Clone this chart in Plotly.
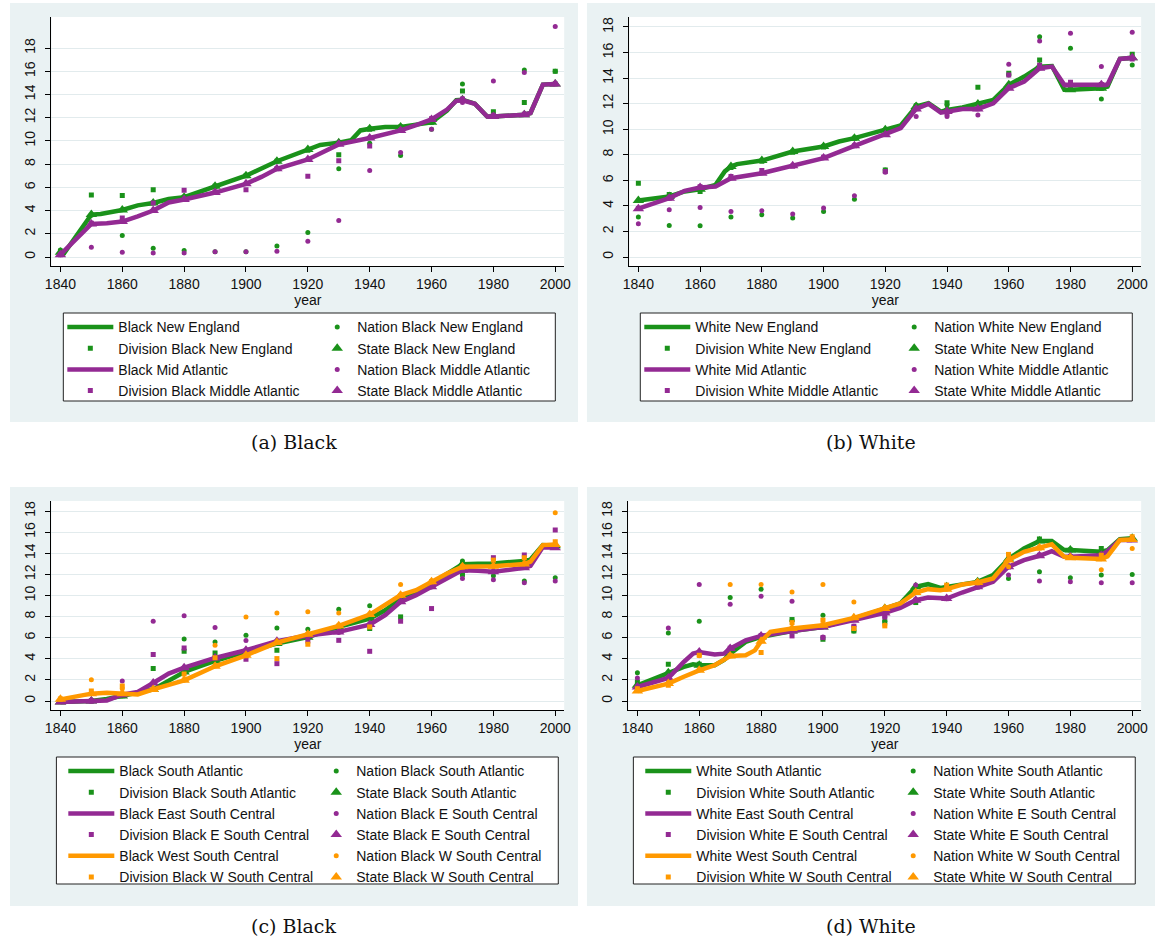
import plotly.graph_objects as go

W, H = 1163, 944

# decade observations
YEARS = list(range(1840, 2001, 10))
Y_TICKS = list(range(0, 19, 2))
X_TICKS = list(range(1840, 2001, 20))

# ---------------- Panel (a): Black, New England / Middle Atlantic ----------------
A_NE_LINE_YR = [1840, 1841, 1850, 1853, 1860, 1865, 1870, 1875, 1880, 1890, 1900, 1910, 1920, 1924, 1930, 1934,
                1937, 1940, 1945, 1950, 1955, 1960, 1965, 1968, 1970, 1974, 1978, 1980, 1990, 1992, 1996, 2000]
A_NE_LINE = [0.4, 0.25, 3.65, 3.7, 4.05, 4.45, 4.65, 5.0, 5.15, 6.1, 7.0, 8.25, 9.25, 9.65, 9.85, 10.05,
             10.9, 11.05, 11.2, 11.2, 11.4, 11.6, 12.6, 13.5, 13.55, 13.2, 12.1, 12.1, 12.25, 12.4, 14.85, 14.9]
A_NE_STATE = [0.4, 3.65, 4.05, 4.65, 5.15, 6.1, 7.0, 8.25, 9.25, 9.85, 11.05, 11.2, 11.6, 13.55, 12.1, 12.25, 14.9]
A_NE_DIV = [0.5, 5.35, 5.3, 5.8, 5.15, 6.1, 7.0, 8.25, 9.2, 8.8, 11.0, 11.2, 11.6, 14.3, 12.5, 13.3, 16.0]
A_NE_NAT = [0.6, 3.6, 1.85, 0.75, 0.55, 0.45, 0.45, 0.95, 2.1, 7.6, 9.8, 8.75, 11.0, 14.9, 12.3, 16.1, 16.0]

A_MA_LINE_YR = [1840, 1850, 1855, 1860, 1865, 1870, 1875, 1880, 1890, 1900, 1905, 1910, 1920, 1930, 1940, 1950,
                1955, 1960, 1965, 1968, 1970, 1974, 1978, 1980, 1990, 1992, 1996, 2000]
A_MA_LINE = [0.2, 2.85, 2.9, 3.05, 3.5, 4.0, 4.7, 4.95, 5.55, 6.3, 6.9, 7.6, 8.4, 9.7, 10.25, 10.9,
             11.35, 11.85, 12.7, 13.45, 13.5, 13.2, 12.1, 12.1, 12.25, 12.4, 14.85, 14.9]
A_MA_STATE = [0.2, 2.85, 3.05, 4.0, 4.95, 5.55, 6.3, 7.6, 8.4, 9.7, 10.25, 10.9, 11.85, 13.5, 12.1, 12.25, 14.9]
A_MA_DIV = [0.2, 2.9, 3.35, 4.65, 5.75, 5.6, 5.8, 7.6, 6.95, 8.3, 9.55, 10.9, 11.9, 13.6, 12.2, 12.3, 14.9]
A_MA_NAT = [0.2, 0.85, 0.4, 0.35, 0.35, 0.45, 0.45, 0.5, 1.35, 3.15, 7.45, 9.0, 11.0, 13.3, 15.15, 15.9, 19.85]

# ---------------- Panel (b): White, New England / Middle Atlantic ----------------
B_NE_LINE_YR = [1840, 1850, 1855, 1860, 1865, 1868, 1870, 1872, 1880, 1890, 1900, 1905, 1910, 1920, 1925, 1930,
                1934, 1938, 1940, 1945, 1950, 1955, 1960, 1965, 1970, 1974, 1978, 1980, 1990, 1992, 1996, 2000]
B_NE_LINE = [4.43, 4.74, 5.13, 5.31, 5.65, 6.7, 7.08, 7.27, 7.55, 8.26, 8.65, 9.04, 9.3, 9.95, 10.3, 11.77,
             12.03, 11.38, 11.51, 11.7, 11.98, 12.3, 13.47, 14.12, 14.9, 14.95, 13.08, 13.08, 13.2, 13.34, 15.5, 15.6]
B_NE_STATE = [4.43, 4.74, 5.31, 7.08, 7.55, 8.26, 8.65, 9.3, 9.95, 11.77, 11.51, 11.98, 13.47, 14.9, 13.08, 13.2, 15.6]
B_NE_DIV = [5.78, 4.9, 5.13, 7.0, 7.5, 8.2, 8.6, 9.3, 6.82, 11.8, 12.08, 13.28, 14.38, 15.42, 13.1, 13.2, 15.86]
B_NE_NAT = [3.13, 2.47, 2.45, 3.13, 3.31, 3.05, 3.57, 4.53, 6.82, 11.9, 11.9, 12.0, 14.25, 17.24, 16.33, 12.37, 15.03]

B_MA_LINE_YR = [1840, 1850, 1855, 1858, 1860, 1865, 1868, 1870, 1880, 1890, 1900, 1910, 1920, 1925, 1930, 1934,
                1938, 1940, 1945, 1950, 1955, 1960, 1965, 1970, 1974, 1978, 1980, 1990, 1992, 1996, 2000]
B_MA_LINE = [3.78, 4.61, 5.18, 5.39, 5.44, 5.52, 5.9, 6.17, 6.56, 7.14, 7.74, 8.7, 9.56, 10.08, 11.59, 11.98,
             11.3, 11.38, 11.59, 11.59, 12.03, 13.21, 13.73, 14.77, 14.9, 13.47, 13.47, 13.47, 13.5, 15.5, 15.6]
B_MA_STATE = [3.78, 4.61, 5.44, 6.17, 6.56, 7.14, 7.74, 8.7, 9.56, 11.59, 11.38, 11.59, 13.21, 14.77, 13.47, 13.47, 15.6]
B_MA_DIV = [3.8, 4.6, 5.5, 6.3, 6.77, 7.1, 7.8, 8.7, 6.7, 11.6, 11.25, 11.6, 14.25, 15.0, 13.68, 13.5, 15.5]
B_MA_NAT = [2.6, 3.7, 3.88, 3.57, 3.62, 3.36, 3.83, 4.79, 6.64, 10.99, 10.99, 11.12, 15.08, 16.9, 17.5, 14.9, 17.58]

# ---------------- Panel (c): Black, South ----------------
C_SA_LINE_YR = [1840, 1850, 1855, 1860, 1870, 1880, 1890, 1900, 1910, 1920, 1930, 1940, 1945, 1950, 1955, 1960,
                1965, 1970, 1975, 1980, 1990, 1992, 1996, 2000]
C_SA_LINE = [-0.1, 0.0, 0.2, 0.47, 1.1, 2.75, 3.8, 4.65, 5.44, 6.05, 7.02, 7.81, 8.6, 9.71, 10.19, 11.14,
             12.08, 12.97, 13.0, 13.04, 13.27, 13.4, 14.77, 14.71]
C_SA_STATE = [-0.1, 0.0, 0.47, 1.1, 2.75, 3.8, 4.65, 5.44, 6.05, 7.02, 7.81, 9.71, 11.14, 12.97, 13.04, 13.27, 14.71]
C_SA_DIV = [-0.05, 0.0, 0.5, 3.07, 4.71, 4.56, 4.65, 4.81, 6.0, 7.0, 6.87, 7.97, 11.1, 12.0, 13.0, 13.3, 14.7]
C_SA_NAT = [0.0, 0.0, 0.5, 1.2, 5.88, 5.6, 6.23, 6.93, 6.8, 8.7, 9.02, 9.8, 11.1, 13.26, 11.87, 11.36, 11.67]

C_ESC_LINE_YR = [1840, 1850, 1855, 1860, 1865, 1870, 1875, 1880, 1890, 1900, 1910, 1920, 1930, 1940, 1945, 1950,
                 1955, 1960, 1965, 1970, 1975, 1980, 1990, 1992, 1996, 2000]
C_ESC_LINE = [-0.1, 0.0, 0.06, 0.6, 0.85, 1.71, 2.6, 3.16, 4.08, 4.81, 5.66, 6.2, 6.55, 7.24, 8.13, 9.4,
              10.03, 10.82, 11.61, 12.4, 12.35, 12.24, 12.62, 12.8, 14.58, 14.52]
C_ESC_STATE = [-0.1, 0.0, 0.6, 1.71, 3.16, 4.08, 4.81, 5.66, 6.2, 6.55, 7.24, 9.4, 10.82, 12.4, 12.24, 12.62, 14.52]
C_ESC_DIV = [-0.05, 0.0, 0.6, 4.4, 5.03, 4.1, 3.95, 3.54, 5.69, 5.75, 4.71, 7.56, 8.76, 12.4, 13.58, 13.84, 16.2]
C_ESC_NAT = [0.0, 0.0, 1.9, 7.56, 8.07, 6.96, 5.73, 5.6, 6.1, 6.5, 7.2, 9.4, 10.8, 11.6, 11.5, 11.2, 11.36]

C_WSC_LINE_YR = [1840, 1850, 1855, 1860, 1865, 1870, 1880, 1890, 1900, 1910, 1920, 1930, 1940, 1945, 1950, 1955,
                 1960, 1965, 1970, 1975, 1980, 1990, 1992, 1996, 2000]
C_WSC_LINE = [0.16, 0.7, 0.79, 0.7, 0.63, 1.1, 1.96, 3.29, 4.33, 5.54, 6.33, 7.12, 8.19, 9.08, 10.03, 10.5,
              11.29, 12.08, 12.72, 12.75, 12.78, 12.97, 13.2, 14.77, 14.84]
C_WSC_STATE = [0.16, 0.7, 0.7, 1.1, 1.96, 3.29, 4.33, 5.54, 6.33, 7.12, 8.19, 10.03, 11.29, 12.72, 12.78, 12.97, 14.84]
C_WSC_DIV = [0.2, 0.95, 1.42, 1.1, 2.56, 4.11, 4.3, 4.02, 5.38, 7.1, 7.02, 10.0, 11.3, 12.7, 13.35, 13.58, 15.1]
C_WSC_NAT = [0.2, 2.02, 1.17, 1.1, 2.0, 5.28, 7.97, 8.35, 8.45, 8.35, 8.2, 11.04, 11.3, 12.7, 12.8, 13.0, 17.84]

# ---------------- Panel (d): White, South ----------------
D_SA_LINE_YR = [1840, 1850, 1855, 1858, 1860, 1865, 1868, 1870, 1875, 1880, 1890, 1900, 1910, 1920, 1925, 1930,
                1934, 1938, 1940, 1945, 1950, 1955, 1960, 1965, 1970, 1974, 1978, 1980, 1990, 1992, 1996, 2000]
D_SA_LINE = [1.49, 2.69, 3.23, 3.48, 3.39, 3.4, 3.9, 4.49, 5.6, 6.07, 6.64, 7.02, 7.81, 8.76, 9.24, 10.82,
             11.07, 10.72, 10.82, 11.14, 11.29, 11.93, 13.45, 14.46, 15.15, 15.15, 14.3, 14.3, 14.14, 14.3, 15.34, 15.41]
D_SA_STATE = [1.49, 2.69, 3.39, 4.49, 6.07, 6.64, 7.02, 7.81, 8.76, 10.82, 10.82, 11.29, 13.45, 15.15, 14.3, 14.14, 15.41]
D_SA_DIV = [1.8, 3.48, 3.48, 4.5, 6.1, 7.72, 5.85, 6.64, 7.5, 9.33, 10.8, 11.3, 13.5, 15.34, 14.3, 14.46, 15.4]
D_SA_NAT = [2.69, 6.45, 7.56, 9.81, 10.6, 7.6, 8.13, 6.64, 7.56, 9.39, 10.8, 11.3, 11.61, 12.24, 11.67, 11.93, 11.99]

D_ESC_LINE_YR = [1840, 1850, 1855, 1858, 1860, 1865, 1868, 1870, 1875, 1880, 1890, 1900, 1910, 1920, 1925, 1930,
                 1934, 1938, 1940, 1945, 1950, 1955, 1960, 1965, 1970, 1974, 1978, 1980, 1990, 1992, 1996, 2000]
D_ESC_LINE = [1.33, 2.18, 3.7, 4.49, 4.65, 4.4, 4.49, 4.97, 5.76, 6.17, 6.64, 7.02, 7.66, 8.35, 8.83, 9.55,
              9.81, 9.71, 9.71, 10.28, 10.82, 11.29, 12.72, 13.35, 13.76, 14.2, 13.67, 13.67, 13.82, 14.2, 15.25, 15.25]
D_ESC_STATE = [1.33, 2.18, 4.65, 4.97, 6.17, 6.64, 7.02, 7.66, 8.35, 9.55, 9.71, 10.82, 12.72, 13.76, 13.67, 13.82, 15.25]
D_ESC_DIV = [1.3, 2.2, 4.6, 5.0, 6.2, 6.17, 6.01, 7.09, 7.97, 9.55, 9.7, 10.8, 12.7, 13.8, 13.7, 13.8, 15.3]
D_ESC_NAT = [2.18, 6.93, 11.04, 9.17, 9.93, 9.46, 6.07, 7.09, 7.97, 11.0, 9.7, 10.8, 11.93, 11.36, 11.29, 11.2, 11.2]

D_WSC_LINE_YR = [1840, 1850, 1855, 1860, 1865, 1870, 1875, 1878, 1880, 1883, 1890, 1900, 1910, 1920, 1925, 1930,
                 1934, 1938, 1940, 1945, 1950, 1955, 1960, 1965, 1970, 1974, 1978, 1980, 1990, 1992, 1996, 2000]
D_WSC_LINE = [0.95, 1.65, 2.3, 2.91, 3.39, 4.27, 4.33, 4.8, 5.66, 6.55, 6.87, 7.18, 7.88, 8.76, 9.24, 10.28,
              10.6, 10.5, 10.6, 11.04, 11.23, 11.61, 13.35, 14.14, 14.52, 14.84, 13.67, 13.58, 13.45, 13.7, 15.25, 15.31]
D_WSC_STATE = [0.95, 1.65, 2.91, 4.27, 5.66, 6.87, 7.18, 7.88, 8.76, 10.28, 10.6, 11.23, 13.35, 14.52, 13.58, 13.45, 15.31]
D_WSC_DIV = [1.17, 1.49, 4.33, 4.3, 4.59, 7.43, 7.66, 6.87, 7.12, 10.3, 10.98, 11.2, 13.89, 14.5, 13.6, 13.82, 15.56]
D_WSC_NAT = [1.01, 1.7, 4.3, 11.04, 11.04, 10.34, 11.04, 9.39, 7.2, 10.3, 10.6, 11.2, 12.72, 14.5, 13.6, 12.43, 14.46]

GREEN = "#1a921a"
PURPLE = "#932a93"
ORANGE = "#ff9900"
REGION_BG = "#eaf2f3"
GRID = "#e2ebed"
FONT = "Liberation Sans, Arial, sans-serif"

PANELS = [
    dict(caption="(a) Black", yrange=(-0.775, 20.67), xdom=(45, 564), ydom=(17, 266),
         region=(3, 3, 578, 422), legbox=(57, 313, 555, 401), col1=117, col2=358, row1=327,
         series=[
             ("Black New England", "Nation Black New England", "Division Black New England",
              "State Black New England", GREEN, A_NE_LINE_YR, A_NE_LINE, A_NE_NAT, A_NE_DIV, A_NE_STATE),
             ("Black Mid Atlantic", "Nation Black Middle Atlantic", "Division Black Middle Atlantic",
              "State Black Middle Atlantic", PURPLE, A_MA_LINE_YR, A_MA_LINE, A_MA_NAT, A_MA_DIV, A_MA_STATE),
         ]),
    dict(caption="(b) White", yrange=(-0.70, 18.78), xdom=(630, 1148), ydom=(17, 266),
         region=(587, 3, 1162, 422), legbox=(641, 313, 1139, 401), col1=701, col2=942, row1=327,
         series=[
             ("White New England", "Nation White New England", "Division White New England",
              "State White New England", GREEN, B_NE_LINE_YR, B_NE_LINE, B_NE_NAT, B_NE_DIV, B_NE_STATE),
             ("White Mid Atlantic", "Nation White Middle Atlantic", "Division White Middle Atlantic",
              "State White Middle Atlantic", PURPLE, B_MA_LINE_YR, B_MA_LINE, B_MA_NAT, B_MA_DIV, B_MA_STATE),
         ]),
    dict(caption="(c) Black", yrange=(-0.85, 18.95), xdom=(45, 564), ydom=(501, 710),
         region=(3, 487, 578, 906), legbox=(50, 757, 558, 884), col1=118, col2=357, row1=771,
         series=[
             ("Black South Atlantic", "Nation Black South Atlantic", "Division Black South Atlantic",
              "State Black South Atlantic", GREEN, C_SA_LINE_YR, C_SA_LINE, C_SA_NAT, C_SA_DIV, C_SA_STATE),
             ("Black East South Central", "Nation Black E South Central", "Division Black E South Central",
              "State Black E South Central", PURPLE, C_ESC_LINE_YR, C_ESC_LINE, C_ESC_NAT, C_ESC_DIV, C_ESC_STATE),
             ("Black West South Central", "Nation Black W South Central", "Division Black W South Central",
              "State Black W South Central", ORANGE, C_WSC_LINE_YR, C_WSC_LINE, C_WSC_NAT, C_WSC_DIV, C_WSC_STATE),
         ]),
    dict(caption="(d) White", yrange=(-0.85, 18.95), xdom=(629, 1148), ydom=(501, 710),
         region=(587, 487, 1162, 906), legbox=(634, 757, 1142, 884), col1=702, col2=941, row1=771,
         series=[
             ("White South Atlantic", "Nation White South Atlantic", "Division White South Atlantic",
              "State White South Atlantic", GREEN, D_SA_LINE_YR, D_SA_LINE, D_SA_NAT, D_SA_DIV, D_SA_STATE),
             ("White East South Central", "Nation White E South Central", "Division White E South Central",
              "State White E South Central", PURPLE, D_ESC_LINE_YR, D_ESC_LINE, D_ESC_NAT, D_ESC_DIV, D_ESC_STATE),
             ("White West South Central", "Nation White W South Central", "Division White W South Central",
              "State White W South Central", ORANGE, D_WSC_LINE_YR, D_WSC_LINE, D_WSC_NAT, D_WSC_DIV, D_WSC_STATE),
         ]),
]


def px_x(v):
    return v / W


def px_y(v):
    return 1 - v / H


LEG_FONT = 14
ROW_H = LEG_FONT * 1.3 + 3
IW1, IW2 = 46, 30

fig = go.Figure()
layout = dict(
    width=W, height=H, margin=dict(l=0, r=0, t=0, b=0),
    paper_bgcolor="white", plot_bgcolor="white",
    font=dict(family=FONT, size=14, color="#111111"),
    showlegend=True, shapes=[], annotations=[],
)

for i, p in enumerate(PANELS):
    n = i + 1
    sx = "" if n == 1 else str(n)
    xref, yref = "x" + sx, "y" + sx
    leg1 = "legend" if n == 1 else f"legend{2 * n - 1}"
    leg2 = f"legend{2 * n}"

    for (ln, nn, dn, sn, col, lyr, lv, nat, div, st) in p["series"]:
        fig.add_trace(go.Scatter(x=lyr, y=lv, mode="lines", name=ln, legend=leg1,
                                 line=dict(color=col, width=4.5), xaxis=xref, yaxis=yref))
        fig.add_trace(go.Scatter(x=YEARS, y=nat, mode="markers", name=nn, legend=leg2,
                                 marker=dict(color=col, size=5, symbol="circle"), xaxis=xref, yaxis=yref))
        fig.add_trace(go.Scatter(x=YEARS, y=div, mode="markers", name=dn, legend=leg1,
                                 marker=dict(color=col, size=5, symbol="square"), xaxis=xref, yaxis=yref))
        fig.add_trace(go.Scatter(x=YEARS, y=st, mode="markers", name=sn, legend=leg2,
                                 marker=dict(color=col, size=10, symbol="triangle-up"), xaxis=xref, yaxis=yref))

    layout["xaxis" + sx] = dict(
        domain=[px_x(p["xdom"][0]), px_x(p["xdom"][1])], range=[1837.1, 2002.9],
        anchor=yref, tickvals=X_TICKS, ticks="outside", ticklen=5, tickcolor="black",
        showline=True, linecolor="black", linewidth=1, showgrid=False, zeroline=False,
        tickfont=dict(size=14), title=dict(text="year", font=dict(size=14), standoff=3),
    )
    layout["yaxis" + sx] = dict(
        domain=[px_y(p["ydom"][1]), px_y(p["ydom"][0])], range=list(p["yrange"]),
        anchor=xref, tickvals=Y_TICKS, ticks="outside", ticklen=5, tickcolor="black",
        showline=True, linecolor="black", linewidth=1, showgrid=True, gridcolor=GRID,
        gridwidth=1, zeroline=False, tickangle=-90, tickfont=dict(size=14),
        ticklabelstandoff=5,
    )

    x0, y0, x1, y1 = p["region"]
    layout["shapes"].append(dict(type="rect", xref="paper", yref="paper", layer="below",
                                 x0=px_x(x0), x1=px_x(x1), y0=px_y(y1), y1=px_y(y0),
                                 fillcolor=REGION_BG, line=dict(width=0)))
    layout["shapes"].append(dict(type="rect", xref="paper", yref="paper", layer="below",
                                 x0=px_x(p["xdom"][0]), x1=px_x(p["xdom"][1]),
                                 y0=px_y(p["ydom"][1]), y1=px_y(p["ydom"][0]),
                                 fillcolor="white", line=dict(width=0)))
    bx0, by0, bx1, by1 = p["legbox"]
    layout["shapes"].append(dict(type="rect", xref="paper", yref="paper", layer="below",
                                 x0=px_x(bx0), x1=px_x(bx1), y0=px_y(by1), y1=px_y(by0),
                                 fillcolor="white", line=dict(color="#222222", width=1)))

    ytop = px_y(p["row1"] - 5 - ROW_H / 2)
    common = dict(orientation="v", yanchor="top", xanchor="left", y=ytop,
                  bgcolor="rgba(0,0,0,0)", borderwidth=0,
                  font=dict(family=FONT, size=LEG_FONT, color="#111111"))
    layout[leg1] = dict(common, x=px_x(p["col1"] - IW1 - 15), itemwidth=IW1)
    layout[leg2] = dict(common, x=px_x(p["col2"] - IW2 - 14), itemwidth=IW2)

    cx = (p["region"][0] + p["region"][2]) / 2
    cy = p["region"][3] + 20
    layout["annotations"].append(dict(text=p["caption"], xref="paper", yref="paper",
                                      x=px_x(cx), y=px_y(cy), showarrow=False,
                                      xanchor="center", yanchor="middle",
                                      font=dict(family="DejaVu Serif, serif", size=19, color="#111111")))

fig.update_layout(**layout)
fig.write_html("out.html")
